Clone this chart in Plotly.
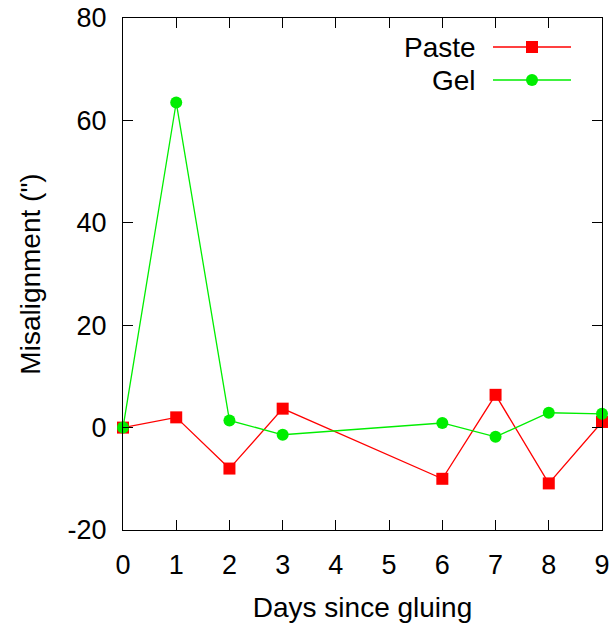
import plotly.graph_objects as go

days = [0, 1, 2, 3, 6, 7, 8, 9]
paste = [0, 2, -8, 3.7, -10, 6.4, -10.9, 1.1]
gel = [0, 63.5, 1.4, -1.4, 0.9, -1.8, 2.9, 2.7]
x_ticks = list(range(0, 10))
y_ticks = [-20, 0, 20, 40, 60, 80]

RED = "#ff0000"
GREEN = "#00ee00"
FONT = "Liberation Sans, Arial, sans-serif"
FS = 28

fig = go.Figure()
fig.add_trace(go.Scatter(x=days, y=paste, mode="lines+markers", name="Paste",
                         line=dict(color=RED, width=1.3),
                         marker=dict(symbol="square", size=12, color=RED)))
fig.add_trace(go.Scatter(x=days, y=gel, mode="lines+markers", name="Gel",
                         line=dict(color=GREEN, width=1.3),
                         marker=dict(symbol="circle", size=12, color=GREEN)))

L, R, T, B = 123, 13, 18, 98
W, H = 615, 628
pw, ph = W - L - R, H - T - B

def px(xp):
    return (xp - L) / pw

def py(yp):
    return (H - B - yp) / ph

shapes = []
annotations = []
for name, color, sym, ypix in [("Paste", RED, "square", 47), ("Gel", GREEN, "circle", 80)]:
    shapes.append(dict(type="line", xref="paper", yref="paper",
                       x0=px(493), x1=px(571), y0=py(ypix), y1=py(ypix),
                       line=dict(color=color, width=1.3)))
    s = 6
    shapes.append(dict(type="rect" if sym == "square" else "circle", xref="paper", yref="paper",
                       x0=px(532 - s), x1=px(532 + s), y0=py(ypix + s), y1=py(ypix - s),
                       fillcolor=color, line=dict(color=color, width=0)))
    annotations.append(dict(text=name, xref="paper", yref="paper",
                            x=px(478), y=py(ypix), xanchor="right", yanchor="middle",
                            showarrow=False, font=dict(size=FS, color="black", family=FONT)))

axis_common = dict(showline=True, linecolor="black", linewidth=1.2, mirror="ticks",
                   ticks="inside", ticklen=10, tickwidth=1, tickcolor="black",
                   showgrid=False, zeroline=False, automargin=False,
                   tickfont=dict(size=27, color="black", family=FONT))

fig.update_layout(
    width=W, height=H,
    margin=dict(l=L, r=R, t=T, b=B),
    plot_bgcolor="white", paper_bgcolor="white",
    showlegend=False,
    shapes=shapes, annotations=annotations,
    font=dict(family=FONT, color="black", size=FS),
    xaxis=dict(range=[0, 9], tickvals=x_ticks, ticktext=[str(t) for t in x_ticks],
               ticklabelstandoff=10,
               title=dict(text="Days since gluing", font=dict(size=FS), standoff=18),
               **axis_common),
    yaxis=dict(range=[-20, 80], tickvals=y_ticks, ticktext=[str(t) for t in y_ticks],
               ticklabelstandoff=10,
               title=dict(text="Misalignment (\")", font=dict(size=FS), standoff=18),
               **axis_common),
)
fig.update_traces(cliponaxis=False)

fig.write_html("out.html")
